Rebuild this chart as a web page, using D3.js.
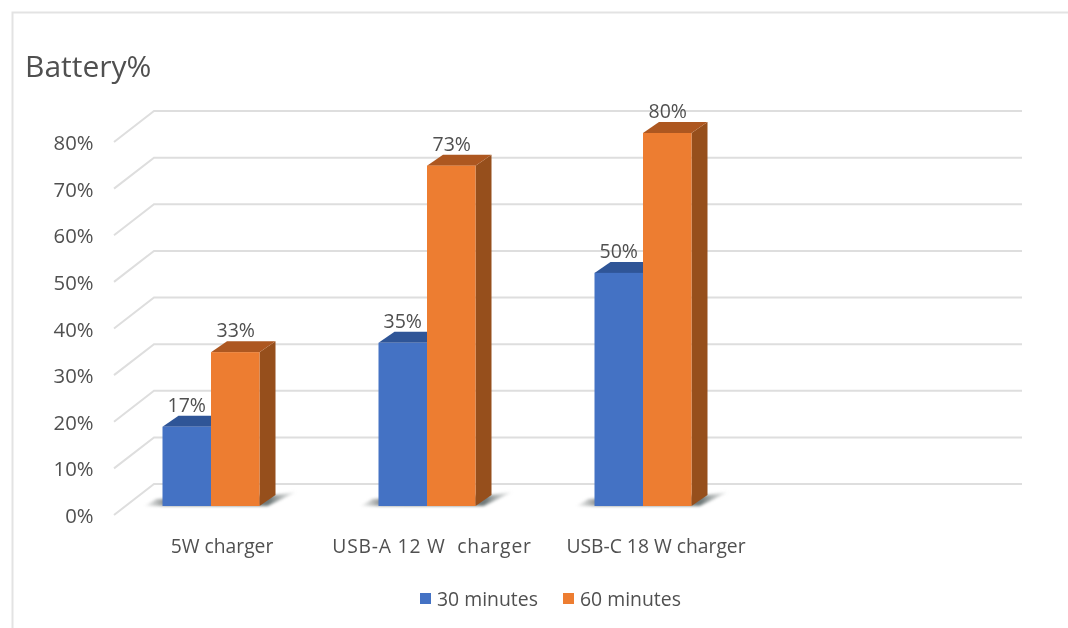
<!DOCTYPE html>
<html><head><meta charset="utf-8">
<script src="https://cdn.jsdelivr.net/npm/d3@7/dist/d3.min.js"></script>
<style>html,body{margin:0;padding:0;background:#fff}svg{display:block;filter:blur(0.45px)}text{font-family:"Open Sans","Noto Sans",sans-serif;fill:#505050}</style>
</head><body><svg id="c" width="1068" height="628"></svg>
<script>
const categories = ["5W charger", "USB-A 12 W  charger", "USB-C 18 W charger", ""];
const seriesNames = ["30 minutes", "60 minutes"];
const minutes30 = [17, 35, 50];
const minutes60 = [33, 73, 80];
const yTicks = [0,10,20,30,40,50,60,70,80];
const colors = ["#4472c4","#ed7d31"];
const topColors = ["#2f5597","#ad5720"];
const sideColors = ["#2f5597","#964f1c"];

const svg = d3.select("#c");
const defs = svg.append("defs");
const grad = defs.append("linearGradient").attr("id","sh").attr("x1",0).attr("x2",1).attr("y1",0).attr("y2",0);
grad.append("stop").attr("offset",0).attr("stop-color","#8a8f8f").attr("stop-opacity",0.05);
grad.append("stop").attr("offset",0.14).attr("stop-color","#6f7474").attr("stop-opacity",0.85);
grad.append("stop").attr("offset",0.82).attr("stop-color","#5f6a6a").attr("stop-opacity",0.9);
grad.append("stop").attr("offset",1).attr("stop-color","#8a8f8f").attr("stop-opacity",0.05);

svg.append("rect").attr("x",12.5).attr("y",12.5).attr("width",1060).attr("height",620).attr("fill","#fff").attr("stroke","#e3e3e3").attr("stroke-width",2);

const y = d3.scaleLinear().domain([0,80]).range([515,142]);
const x = d3.scaleBand().domain(categories).range([114,978]).paddingInner(0).paddingOuter(0);
const dx = 40, dy = -31;
const g = svg.append("g");
yTicks.forEach(t=>{
  const p = d3.path();
  p.moveTo(114,y(t)); p.lineTo(114+dx,y(t)+dy); p.lineTo(1022,y(t)+dy);
  g.append("path").attr("d",p.toString()).attr("fill","none").attr("stroke","#dedede").attr("stroke-width",2);
  g.append("text").attr("x",93.5).attr("y",y(t)+8).attr("text-anchor","end").attr("font-size",20.3).text(t+"%");
});
svg.append("text").attr("x",25).attr("y",77).attr("font-size",30).text("Battery%");

const barW = 48.5, depth = 16, rise = 11;
const offset = [48.5, 97];
const labelX = [222, 432, 656];
categories.slice(0,3).forEach((c,i)=>{
  const x0 = x(c)+offset[0];
  const sh = d3.path();
  sh.moveTo(x0-18,506); sh.lineTo(x0-6,499); sh.lineTo(x0+2*barW+depth,495); sh.lineTo(x0+2*barW+depth+21,492); sh.lineTo(x0+2*barW+8,506); sh.closePath();
  g.append("path").attr("d",sh.toString()).attr("fill","url(#sh)").style("filter","blur(1.5px)");
  [minutes30[i],minutes60[i]].forEach((v,s)=>{
    const bx = x(c)+offset[s];
    const b = y(0)-9, t = y(v)-9;
    const side = d3.path();
    side.moveTo(bx+barW,t); side.lineTo(bx+barW+depth,t-rise); side.lineTo(bx+barW+depth,b-rise); side.lineTo(bx+barW,b); side.closePath();
    const top = d3.path();
    top.moveTo(bx,t); top.lineTo(bx+depth,t-rise); top.lineTo(bx+barW+depth,t-rise); top.lineTo(bx+barW,t); top.closePath();
    g.append("path").attr("d",side.toString()).attr("fill",sideColors[s]);
    g.append("path").attr("d",top.toString()).attr("fill",topColors[s]);
    g.append("rect").attr("x",bx).attr("y",t).attr("width",barW).attr("height",b-t).attr("fill",colors[s]);
    g.append("text").attr("x",bx+barW/2+(s?0.5:0)).attr("y",t-15).attr("text-anchor","middle").attr("font-size",19.5).text(v+"%");
  });
  svg.append("text").attr("x",labelX[i]).attr("y",553).attr("text-anchor","middle").attr("font-size",19.3)
    .style("white-space","pre").style("letter-spacing",i==1?"0.8px":"0").text(c);
});
const lg = svg.append("g");
[420,563].forEach((lx,i)=>{
  lg.append("rect").attr("x",lx).attr("y",593).attr("width",11).attr("height",11).attr("fill",colors[i]);
  lg.append("text").attr("x",lx+17).attr("y",606).attr("font-size",19.4).text(seriesNames[i]);
});
</script></body></html>
